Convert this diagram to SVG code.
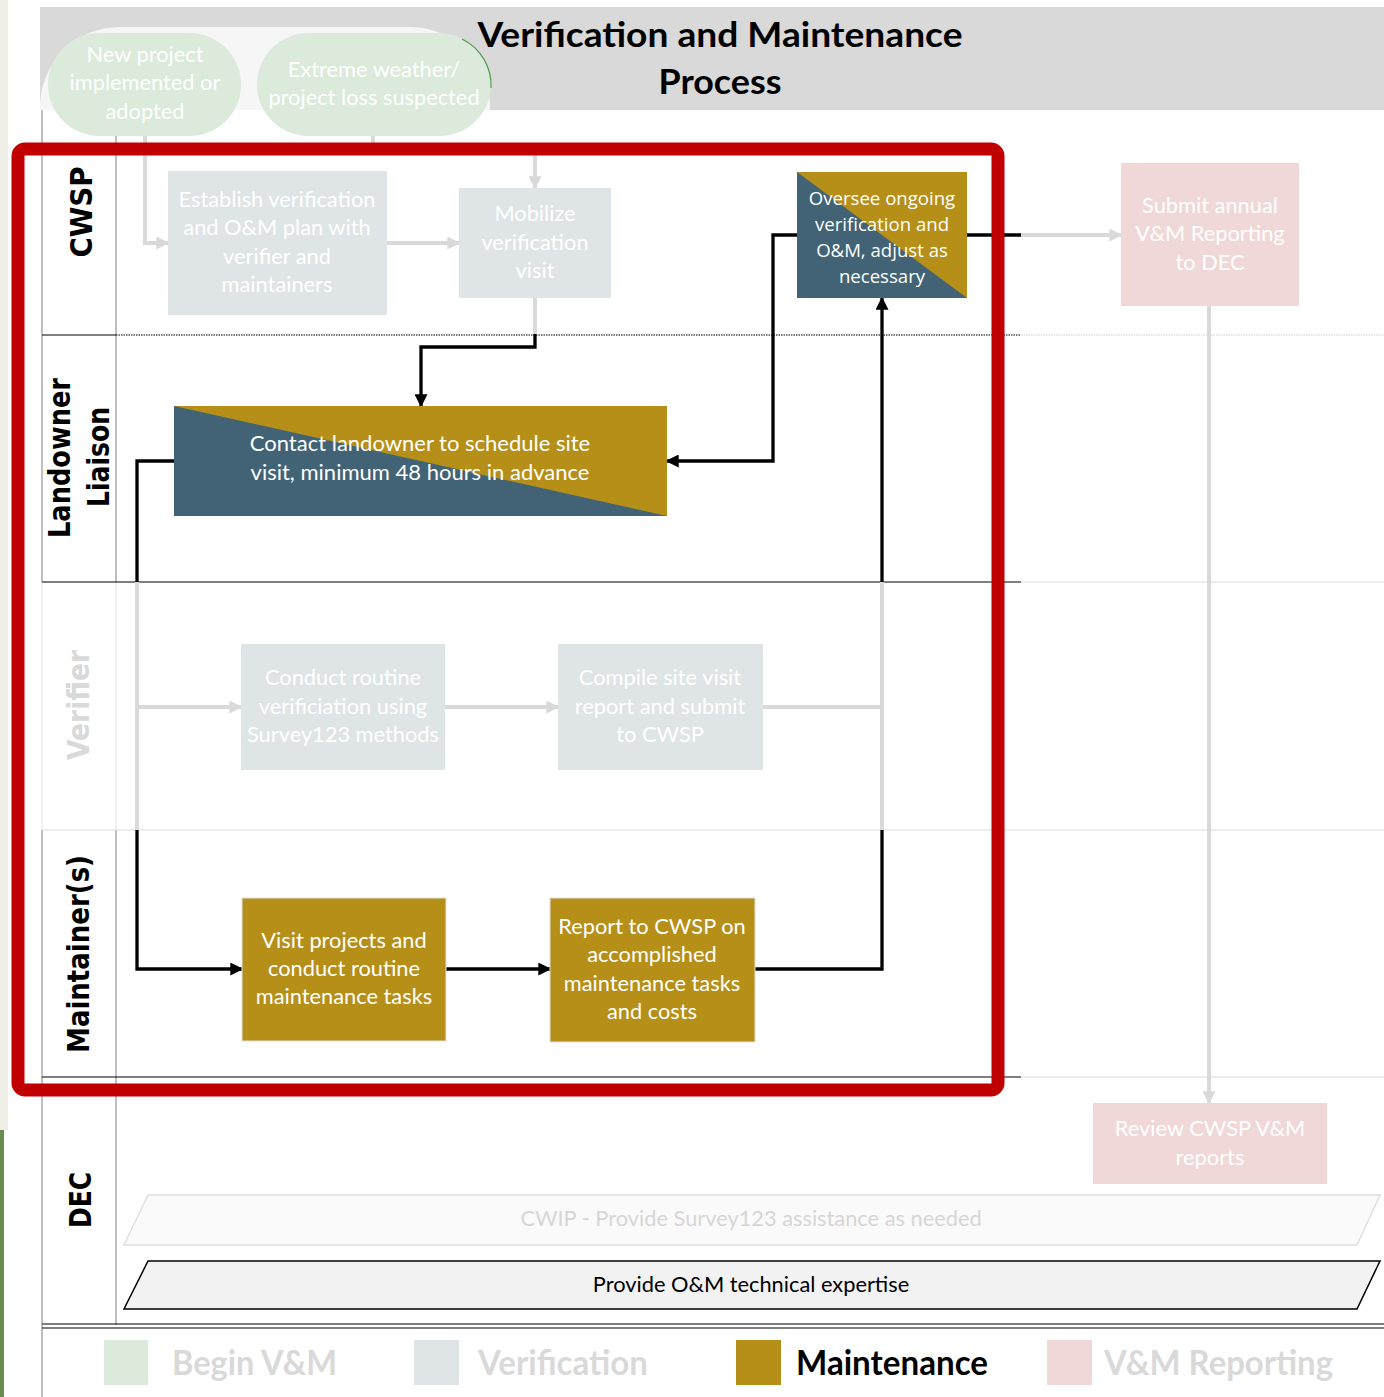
<svg xmlns="http://www.w3.org/2000/svg" width="1384" height="1397" viewBox="0 0 1384 1397">
<style>
.t{font-family:Lato,"Liberation Sans",sans-serif;font-size:21.8px;fill:#fff;text-anchor:middle}
.lane{font-family:"DejaVu Sans","Liberation Sans",sans-serif;font-weight:bold;font-size:30px;fill:#000;text-anchor:middle}
.leg{font-family:Lato,"Liberation Sans",sans-serif;font-weight:bold;font-size:34px;fill:#d9d9d9}
.title{font-family:Lato,"Liberation Sans",sans-serif;font-weight:bold;font-size:35px;fill:#000;text-anchor:middle}
.ov{font-family:"Open Sans",Lato,sans-serif;font-size:18.6px}
.gc{fill:none;stroke:#d9d9d9;stroke-width:4}
.bc{fill:none;stroke:#000;stroke-width:3.3}
.ln{stroke:#000;stroke-width:1.2}
.lg{stroke:#d9d9d9;stroke-width:1.2}
.vl{stroke:#7f7f7f;stroke-width:1}
.faded{fill:#dfe4e7}
.pink{fill:#f0d8d9}
.gold{fill:#b58f18;stroke:#e0e0e0;stroke-width:1}
.teal{fill:#416375}
.green{fill:#dbeadb}
</style>
<defs>
<marker id="ab" viewBox="0 0 10 10" refX="9" refY="5" markerWidth="13" markerHeight="13" markerUnits="userSpaceOnUse" orient="auto"><path d="M0,0 L10,5 L0,10 z" fill="#000"/></marker>
<marker id="ag" viewBox="0 0 10 10" refX="9" refY="5" markerWidth="13" markerHeight="13" markerUnits="userSpaceOnUse" orient="auto"><path d="M0,0 L10,5 L0,10 z" fill="#d9d9d9"/></marker>
<clipPath id="band"><rect x="40" y="7" width="1344" height="103"/></clipPath>
</defs>

<!-- page background -->
<rect x="0" y="0" width="1384" height="1397" fill="#fff"/>
<rect x="0" y="0" width="8" height="1130" fill="#efefe7"/>
<rect x="0" y="1130" width="4" height="267" fill="#6a8c50"/>

<!-- title band -->
<rect x="40" y="7" width="1344" height="103" fill="#d9d9d9"/>
<rect x="40" y="27" width="450" height="200" rx="80" fill="#f6f6f6" clip-path="url(#band)"/>
<text class="title" x="720" y="47" textLength="485" lengthAdjust="spacingAndGlyphs">Verification and Maintenance</text>
<text class="title" x="720" y="94" textLength="123" lengthAdjust="spacingAndGlyphs">Process</text>

<!-- lane grid -->
<g id="lanes">
<line class="vl" x1="42" y1="110" x2="42" y2="582"/>
<line class="vl" x1="116" y1="110" x2="116" y2="582"/>
<line x1="42" y1="582" x2="42" y2="830" stroke="#e3e3e3" stroke-width="1"/>
<line x1="116" y1="582" x2="116" y2="830" stroke="#e3e3e3" stroke-width="1"/>
<line class="vl" x1="42" y1="830" x2="42" y2="1397"/>
<line class="vl" x1="116" y1="830" x2="116" y2="1325"/>
<line class="ln" x1="42" y1="335" x2="116" y2="335"/>
<line x1="116" y1="335" x2="1021" y2="335" stroke="#000" stroke-width="1.2" stroke-dasharray="1.5 1"/>
<line x1="1021" y1="335" x2="1384" y2="335" stroke="#d0d0d0" stroke-width="1.2" stroke-dasharray="1.5 1"/>
<line class="ln" x1="42" y1="582" x2="1021" y2="582"/>
<line class="lg" x1="1021" y1="582" x2="1384" y2="582"/>
<line class="lg" x1="42" y1="830" x2="1384" y2="830"/>
<line class="ln" x1="42" y1="1077" x2="1021" y2="1077"/>
<line class="lg" x1="1021" y1="1077" x2="1384" y2="1077"/>
<line x1="42" y1="1324" x2="1384" y2="1324" stroke="#000" stroke-width="1.2"/>
<line x1="42" y1="1328" x2="1384" y2="1328" stroke="#000" stroke-width="1.2"/>
</g>

<!-- lane labels -->
<g id="lane-labels">
<text class="lane" transform="translate(92,212) rotate(-90)" textLength="91" lengthAdjust="spacingAndGlyphs">CWSP</text>
<text class="lane" transform="translate(70,458) rotate(-90)" textLength="160" lengthAdjust="spacingAndGlyphs">Landowner</text>
<text class="lane" transform="translate(109,457) rotate(-90)" textLength="100" lengthAdjust="spacingAndGlyphs">Liaison</text>
<text class="lane" transform="translate(89,705) rotate(-90)" textLength="110" lengthAdjust="spacingAndGlyphs" style="fill:#d9d9d9">Verifier</text>
<text class="lane" transform="translate(89,954) rotate(-90)" textLength="198" lengthAdjust="spacingAndGlyphs">Maintainer(s)</text>
<text class="lane" transform="translate(91,1200) rotate(-90)" textLength="56" lengthAdjust="spacingAndGlyphs">DEC</text>
</g>

<!-- connectors -->
<g id="connectors">
<path class="gc" d="M145,136 V243 H168" marker-end="url(#ag)"/>
<path class="gc" d="M387,243 H459" marker-end="url(#ag)"/>
<path class="gc" d="M373,136 V149 H535 V188" marker-end="url(#ag)"/>
<path class="gc" d="M535,298 V335"/>
<path class="gc" d="M1021,235 H1121" marker-end="url(#ag)"/>
<path class="gc" d="M1209,306 V1103" marker-end="url(#ag)"/>
<path class="gc" d="M137,582 V830"/>
<path class="gc" d="M137,707 H241" marker-end="url(#ag)"/>
<path class="gc" d="M445,707 H558" marker-end="url(#ag)"/>
<path class="gc" d="M763,707 H882"/>
<path class="gc" d="M882,582 V830"/>
<path class="bc" d="M535,334 V347 H421 V406" marker-end="url(#ab)"/>
<path class="bc" d="M967,235 H1021"/>
<path class="bc" d="M797,235 H773 V461 H667" marker-end="url(#ab)"/>
<path class="bc" d="M174,461 H137 V582"/>
<path class="bc" d="M137,830 V969 H242" marker-end="url(#ab)"/>
<path class="bc" d="M446,969 H550" marker-end="url(#ab)"/>
<path class="bc" d="M755,969 H882 V830"/>
<path class="bc" d="M882,582 V298" marker-end="url(#ab)"/>
</g>

<!-- start events -->
<g id="start-new">
<rect class="green" x="48" y="33" width="193" height="103" rx="51.5"/>
<text class="t" x="145" y="62">New project</text>
<text class="t" x="145" y="90">implemented or</text>
<text class="t" x="145" y="119">adopted</text>
</g>
<g id="start-weather">
<rect class="green" x="257" y="33" width="234" height="103" rx="51.5"/>
<path d="M462,39 A51.5,51.5 0 0 1 491,88" fill="none" stroke="#4f9a4f" stroke-width="1.2"/>
<text class="t" x="374" y="77">Extreme weather/</text>
<text class="t" x="374" y="105">project loss suspected</text>
</g>

<g id="establish">
<rect class="faded" x="168" y="171" width="219" height="144"/>
<text class="t" x="277" y="207">Establish verification</text>
<text class="t" x="277" y="235">and O&amp;M plan with</text>
<text class="t" x="277" y="264">verifier and</text>
<text class="t" x="277" y="292">maintainers</text>
</g>
<g id="mobilize">
<rect class="faded" x="459" y="188" width="152" height="110"/>
<text class="t" x="535" y="221">Mobilize</text>
<text class="t" x="535" y="250">verification</text>
<text class="t" x="535" y="278">visit</text>
</g>
<g id="oversee">
<rect class="teal" x="797" y="172" width="170" height="126"/>
<polygon fill="#b58f18" points="797,172 967,172 967,298"/>
<text class="t ov" x="882" y="205">Oversee ongoing</text>
<text class="t ov" x="882" y="231">verification and</text>
<text class="t ov" x="882" y="257">O&amp;M, adjust as</text>
<text class="t ov" x="882" y="283">necessary</text>
</g>
<g id="submit">
<rect class="pink" x="1121" y="163" width="178" height="143"/>
<text class="t" x="1210" y="213">Submit annual</text>
<text class="t" x="1210" y="241">V&amp;M Reporting</text>
<text class="t" x="1210" y="270">to DEC</text>
</g>
<g id="contact">
<rect class="teal" x="174" y="406" width="493" height="110"/>
<polygon fill="#b58f18" points="174,406 667,406 667,516"/>
<text class="t" x="420" y="451" style="font-size:22px">Contact landowner to schedule site</text>
<text class="t" x="420" y="480" style="font-size:22px">visit, minimum 48 hours in advance</text>
</g>
<g id="conduct">
<rect class="faded" x="241" y="644" width="204" height="126"/>
<text class="t" x="343" y="685">Conduct routine</text>
<text class="t" x="343" y="714">verificiation using</text>
<text class="t" x="343" y="742">Survey123 methods</text>
</g>
<g id="compile">
<rect class="faded" x="558" y="644" width="205" height="126"/>
<text class="t" x="660" y="685">Compile site visit</text>
<text class="t" x="660" y="714">report and submit</text>
<text class="t" x="660" y="742">to CWSP</text>
</g>
<g id="visit">
<rect class="gold" x="242" y="898" width="204" height="143"/>
<text class="t" x="344" y="948">Visit projects and</text>
<text class="t" x="344" y="976">conduct routine</text>
<text class="t" x="344" y="1004">maintenance tasks</text>
</g>
<g id="report">
<rect class="gold" x="550" y="898" width="205" height="144"/>
<text class="t" x="652" y="934">Report to CWSP on</text>
<text class="t" x="652" y="962">accomplished</text>
<text class="t" x="652" y="991">maintenance tasks</text>
<text class="t" x="652" y="1019">and costs</text>
</g>
<g id="review">
<rect class="pink" x="1093" y="1103" width="234" height="81"/>
<text class="t" x="1210" y="1136">Review CWSP V&amp;M</text>
<text class="t" x="1210" y="1165">reports</text>
</g>
<g id="cwip">
<polygon points="148,1195 1380,1195 1357,1245 124,1245" fill="#fafafa" stroke="#e0e0e0" stroke-width="1.5"/>
<text class="t" x="751" y="1226" style="fill:#d6d6d6;font-size:21.8px">CWIP - Provide Survey123 assistance as needed</text>
</g>
<g id="expertise">
<polygon points="148,1261 1380,1261 1357,1309 124,1309" fill="#f2f2f2" stroke="#000" stroke-width="1.5"/>
<text class="t" x="751" y="1292" style="fill:#000;font-size:21.8px">Provide O&amp;M technical expertise</text>
</g>

<!-- highlight box -->
<rect x="18" y="149" width="980" height="941" rx="7" fill="none" stroke="#c00000" stroke-width="13"/>

<!-- legend -->
<g id="legend">
<rect class="green" x="104" y="1340" width="44" height="45"/>
<text class="leg" x="172" y="1375" textLength="165" lengthAdjust="spacingAndGlyphs">Begin V&amp;M</text>
<rect class="faded" x="414" y="1340" width="45" height="45"/>
<text class="leg" x="478" y="1375" textLength="170" lengthAdjust="spacingAndGlyphs">Verification</text>
<rect fill="#b58f18" x="736" y="1340" width="45" height="45"/>
<text class="leg" x="796" y="1375" textLength="192" lengthAdjust="spacingAndGlyphs" style="fill:#000">Maintenance</text>
<rect class="pink" x="1047" y="1340" width="45" height="45"/>
<text class="leg" x="1104" y="1375" textLength="229" lengthAdjust="spacingAndGlyphs">V&amp;M Reporting</text>
</g>
</svg>
